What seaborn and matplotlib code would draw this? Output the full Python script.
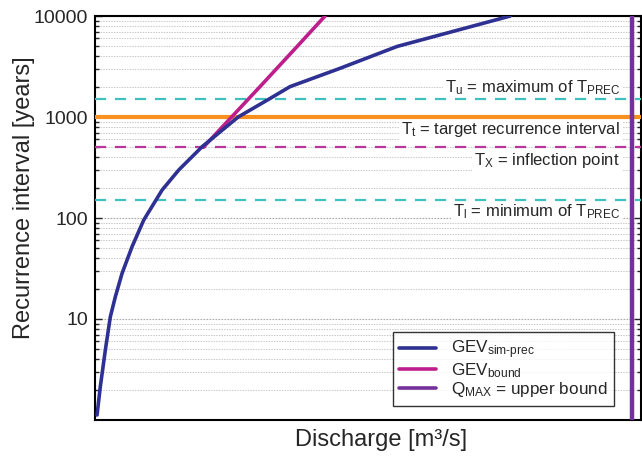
import numpy as np
import pandas as pd
import matplotlib
matplotlib.use("Agg")
import matplotlib.pyplot as plt
import seaborn as sns
from matplotlib.ticker import FixedLocator, FixedFormatter, LogLocator, NullFormatter
from matplotlib.lines import Line2D

# Simulated GEV curve (discharge vs. return period)
sim_T = [1.12, 2.14, 4.93, 10.5, 16.6, 28.3, 52, 95.5, 189, 299, 508, 1000, 1500, 2000, 3000, 5000, 10000]
sim_Q = [3.7, 9.7, 18.9, 28.0, 37.2, 49.5, 67.8, 89.2, 122.7, 153.3, 196, 262, 318, 357, 446, 553, 760]

# Bounded GEV branch starting at the inflection point
bound_T = [500, 1000, 2000, 5000, 10000]
bound_Q = [198, 250, 302, 370, 421]

# Upper bound of discharge
q_max = 982

# Reference recurrence intervals
T_u = 1500
T_t = 1000
T_x = 500
T_l = 150

y_ticks = [10, 100, 1000, 10000]
y_ticklabels = ["10", "100", "1000", "10000"]

sim_df = pd.DataFrame({"Q": sim_Q, "T": sim_T})
bound_df = pd.DataFrame({"Q": bound_Q, "T": bound_T})

sns.set_style("ticks")
plt.rcParams["font.family"] = ["Liberation Sans", "DejaVu Sans"]
plt.rcParams["mathtext.fontset"] = "custom"
plt.rcParams["mathtext.rm"] = "Liberation Sans"
plt.rcParams["mathtext.it"] = "Liberation Sans"
plt.rcParams["mathtext.default"] = "regular"

c_sim = "#2E3192"
c_bound = "#BE1E8C"
c_qmax = "#74319B"
c_orange = "#F7901E"
c_cyan = "#41C1BE"
c_xdash = "#B8379A"

fig = plt.figure(figsize=(6.42, 4.58), dpi=100)
ax = fig.add_axes([0.148, 0.083, 0.851, 0.882])
ax.set_yscale("log")
ax.set_xlim(0, 1000)
ax.set_ylim(1, 10000)

# dotted grid at every decade and sub-decade tick
ax.yaxis.set_major_locator(FixedLocator(y_ticks))
ax.yaxis.set_major_formatter(FixedFormatter(y_ticklabels))
ax.yaxis.set_minor_locator(LogLocator(base=10, subs=np.arange(2, 10)))
ax.yaxis.set_minor_formatter(NullFormatter())
ax.grid(True, axis="y", which="minor", color="#C8C8C8", linestyle=(0, (1.5, 1.2)),
        linewidth=0.7, zorder=0)
ax.grid(True, axis="y", which="major", color="#A8A8A8", linestyle=(0, (1.5, 1.2)),
        linewidth=0.8, zorder=0)
ax.set_axisbelow(True)

# reference lines
ax.axhline(T_u, color=c_cyan, lw=1.6, ls=(0, (5, 4)), zorder=3)
ax.axhline(T_t, color=c_orange, lw=3.0, zorder=3)
ax.axhline(T_x, color=c_xdash, lw=1.6, ls=(0, (5, 4)), zorder=3)
ax.axhline(T_l, color=c_cyan, lw=1.6, ls=(0, (5, 4)), zorder=3)

sns.lineplot(data=bound_df, x="Q", y="T", ax=ax, color=c_bound, lw=2.6,
             sort=False, zorder=4)
sns.lineplot(data=sim_df, x="Q", y="T", ax=ax, color=c_sim, lw=2.6,
             sort=False, zorder=5)
ax.axvline(q_max, color=c_qmax, lw=3.2, zorder=6)

# annotations with white boxes over the grid
box = dict(facecolor="white", edgecolor="none", pad=1.5)
tx = 961
fs = 12
ax.text(tx, 1768, r"T$_{u}$ = maximum of T$_{PREC}$", ha="right", va="baseline",
        fontsize=fs, bbox=box, zorder=2)
ax.text(tx, 679, r"T$_{t}$ = target recurrence interval", ha="right", va="baseline",
        fontsize=fs, bbox=box, zorder=2)
ax.text(tx, 335, r"T$_{X}$ = inflection point", ha="right", va="baseline",
        fontsize=fs, bbox=box, zorder=2)
ax.text(tx, 104.7, r"T$_{l}$ = minimum of T$_{PREC}$", ha="right", va="baseline",
        fontsize=fs, bbox=box, zorder=2)

ax.set_xticks([])
ax.tick_params(axis="y", which="both", direction="in", right=True, left=True,
               labelsize=14, length=3, width=1, pad=5)
ax.tick_params(axis="y", which="major", length=5)
for s in ax.spines.values():
    s.set_linewidth(1.5)
    s.set_color("black")

ax.set_xlabel("Discharge [m³/s]", fontsize=17)
ax.set_ylabel("Recurrence interval [years]", fontsize=17)
ax.xaxis.set_label_coords(0.524, -0.022)
ax.yaxis.set_label_coords(-0.11, 0.55)

handles = [
    Line2D([], [], color=c_sim, lw=2.6),
    Line2D([], [], color=c_bound, lw=2.6),
    Line2D([], [], color=c_qmax, lw=2.6),
]
labels = [
    "GEV$_{sim\u2010prec}$",
    "GEV$_{bound}$",
    "Q$_{MAX}$ = upper bound",
]
leg = ax.legend(handles, labels, loc="lower right", bbox_to_anchor=(0.95, 0.035),
                fontsize=12.3, frameon=True, fancybox=False, handlelength=2.15,
                labelspacing=0.0, borderpad=0.4, handletextpad=0.85,
                borderaxespad=0.0)
leg.get_frame().set_edgecolor("black")
leg.get_frame().set_linewidth(1.0)
leg.set_zorder(10)

fig.savefig("out.png", dpi=100)
